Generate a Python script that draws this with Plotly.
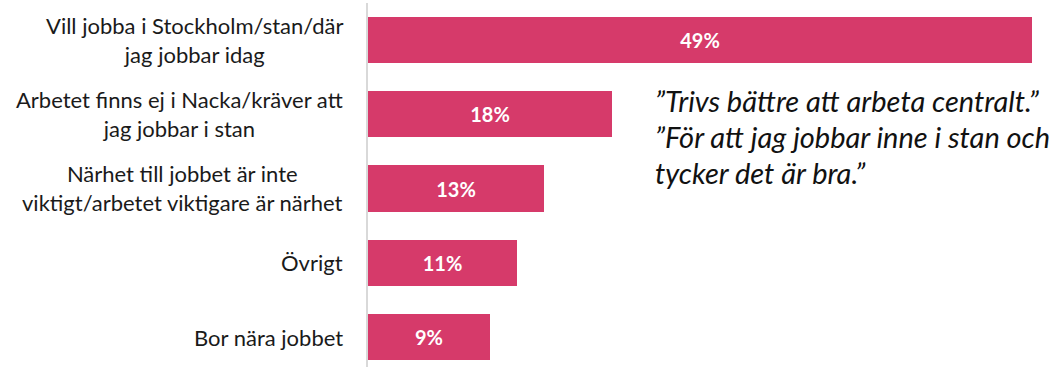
import plotly.graph_objects as go

categories = [
    "Vill jobba i Stockholm/stan/där<br>jag jobbar idag",
    "Arbetet finns ej i Nacka/kräver att<br>jag jobbar i stan",
    "Närhet till jobbet är inte<br>viktigt/arbetet viktigare är närhet",
    "Övrigt",
    "Bor nära jobbet",
]
values = [49, 18, 13, 11, 9]
value_labels = ["49%", "18%", "13%", "11%", "9%"]
quote_lines = [
    "”Trivs bättre att arbeta centralt.”",
    "”För att jag jobbar inne i stan och",
    "tycker det är bra.”",
]

BAR = "#D63A6A"
FONT = "Lato, 'Open Sans', sans-serif"

fig = go.Figure()
fig.add_trace(go.Bar(
    x=values,
    y=list(range(len(categories))),
    orientation="h",
    marker=dict(color=BAR, line=dict(width=0)),
    width=0.62,
    text=value_labels,
    textposition="inside",
    insidetextanchor="middle",
    textfont=dict(family=FONT, size=20, color="white", weight="bold"),
    hoverinfo="skip",
))

annotations = []
for i, c in enumerate(categories):
    annotations.append(dict(
        x=0, y=i, xref="paper", yref="y", text=c, showarrow=False,
        xanchor="right", yanchor="middle", align="center", xshift=-23,
        font=dict(family=FONT, size=22, color="#1a1a1a"),
    ))

W, H = 1056, 367
L, R, T, B = 368, 24, 3, 0
pw, ph = W - L - R, H - T - B

quote_y = [100, 136, 172]
for line, py in zip(quote_lines, quote_y):
    annotations.append(dict(
        x=(653 - L) / pw, y=(H - py - B) / ph, xref="paper", yref="paper",
        text=line, showarrow=False, xanchor="left", yanchor="middle",
        font=dict(family=FONT, size=29, color="#111111", style="italic"),
    ))

fig.update_layout(
    width=W, height=H,
    margin=dict(l=L, r=R, t=T, b=B),
    paper_bgcolor="white", plot_bgcolor="white",
    showlegend=False,
    xaxis=dict(range=[0, 49], visible=False, fixedrange=True),
    yaxis=dict(range=[4.404, -0.498], showticklabels=False, showgrid=False,
               zeroline=False, showline=True, linecolor="#D9D9D9", linewidth=2,
               ticks="", fixedrange=True),
    annotations=annotations,
    bargap=0,
)

fig.write_html("out.html", config={"displayModeBar": False},
               post_script="document.body.style.margin='0';document.body.style.overflow='hidden';")
